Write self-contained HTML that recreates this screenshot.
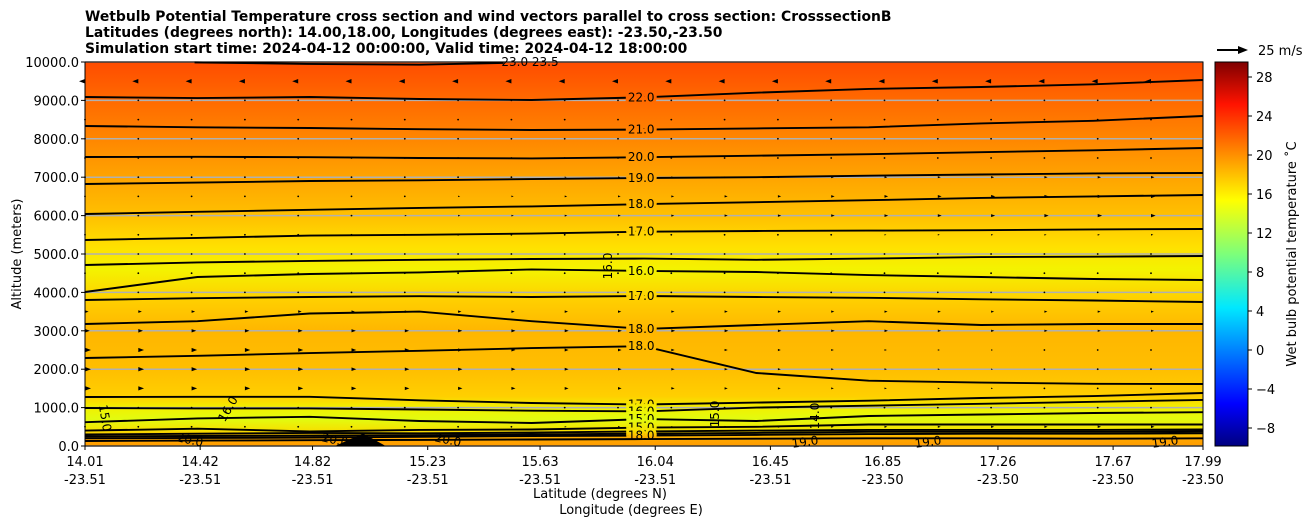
<!DOCTYPE html>
<html><head><meta charset="utf-8">
<style>
body{margin:0;background:#fff;}
svg text{font-family:"DejaVu Sans","Liberation Sans",sans-serif;}
</style></head>
<body>
<svg id="chart" width="1311" height="526" viewBox="0 0 1311 526" xmlns="http://www.w3.org/2000/svg" style="position:absolute;left:0;top:0">
<defs>
<linearGradient id="bg" gradientUnits="userSpaceOnUse" x1="0" y1="446" x2="0" y2="62">
<stop offset="0" stop-color="#ff9c00"/>
<stop offset="0.02" stop-color="#ffa800"/>
<stop offset="0.04" stop-color="#f6e000"/>
<stop offset="0.07" stop-color="#e2fb10"/>
<stop offset="0.10" stop-color="#f2f000"/>
<stop offset="0.13" stop-color="#ffcf00"/>
<stop offset="0.20" stop-color="#ffbe00"/>
<stop offset="0.30" stop-color="#ffb600"/>
<stop offset="0.38" stop-color="#ffcf00"/>
<stop offset="0.46" stop-color="#f4f300"/>
<stop offset="0.52" stop-color="#ffe000"/>
<stop offset="0.60" stop-color="#ffc000"/>
<stop offset="0.70" stop-color="#ffa400"/>
<stop offset="0.80" stop-color="#ff8600"/>
<stop offset="0.90" stop-color="#ff6a00"/>
<stop offset="1" stop-color="#ff4c00"/>
</linearGradient>
<linearGradient id="jet" x1="0" y1="1" x2="0" y2="0">
<stop offset="0" stop-color="#00007f"/>
<stop offset="0.11" stop-color="#0000ff"/>
<stop offset="0.36" stop-color="#00e8ff"/>
<stop offset="0.5" stop-color="#7dff7a"/>
<stop offset="0.64" stop-color="#ffff00"/>
<stop offset="0.89" stop-color="#ff1300"/>
<stop offset="1" stop-color="#7f0000"/>
</linearGradient>
</defs>
</svg>
<script>
const latTicks=[14.01,14.42,14.82,15.23,15.63,16.04,16.45,16.85,17.26,17.67,17.99];
const lonTicks=["-23.51","-23.51","-23.51","-23.51","-23.51","-23.51","-23.51","-23.50","-23.50","-23.50","-23.50"];
const altTicks=[0,1000,2000,3000,4000,5000,6000,7000,8000,9000,10000];
const cbarTicks=[-8,-4,0,4,8,12,16,20,24,28];
const sampleLat=[14.01,14.41,14.81,15.2,15.6,16.0,16.4,16.8,17.2,17.6,17.99];
const contourLevels=["22.0","21.0","20.0","19.0","18.0","17.0","16.0","16.0","17.0","18.0","18.0","17.0","16.0","15.0","15.0","16.0","17.0","18.0","19.0"];
const labelShown=[1,1,1,1,1,1,0,1,1,1,1,1,1,1,1,0,0,1,0];
const c22=[9089,9060,9089,9036,9010,9080,9200,9300,9350,9420,9530];
const c21=[8333,8300,8280,8250,8229,8240,8270,8300,8400,8470,8594];
const c20=[7526,7530,7520,7500,7490,7520,7560,7600,7650,7700,7760];
const c19=[6823,6860,6900,6920,6950,6979,7000,7040,7070,7100,7109];
const c18=[6042,6100,6150,6200,6240,6300,6350,6400,6460,6500,6536];
const c17=[5365,5420,5480,5500,5530,5580,5600,5610,5620,5640,5651];
const c16a=[4713,4780,4820,4850,4870,4880,4850,4880,4920,4930,4948];
const c16b=[4010,4400,4480,4520,4600,4560,4530,4450,4400,4350,4323];
const c17b=[3802,3850,3880,3900,3880,3906,3880,3860,3820,3790,3750];
const c18b=[3177,3250,3450,3500,3250,3050,3150,3250,3150,3177,3177];
const c18c=[2292,2350,2420,2480,2550,2600,1900,1700,1650,1620,1615];
const c17c=[1276,1280,1280,1190,1120,1080,1130,1180,1250,1300,1380];
const c16c=[990,980,980,950,920,900,1000,1050,1100,1150,1200];
const c15a=[620,720,760,650,600,700,650,780,820,860,880];
const c15b=[400,450,380,420,430,480,500,560,560,560,560];
const c16d=[300,320,340,330,350,380,400,420,420,420,430];
const c17d=[250,260,270,280,300,320,340,370,370,370,380];
const c18d=[200,210,220,240,260,270,290,310,320,320,330];
const c19b=[130,140,150,160,170,180,190,200,200,190,200];
const contours=[c22,c21,c20,c19,c18,c17,c16a,c16b,c17b,c18b,c18c,c17c,c16c,c15a,c15b,c16d,c17d,c18d,c19b];
const windAlt=[0,500,1000,1500,2000,2500,3000,3500,4000,4500,5000,5500,6000,6500,7000,7500,8000,8500,9000,9500,10000];
const windLeft=[0,0.3,0.4,2.5,2.5,2.5,2,1.5,0.4,0.3,0.3,0.3,0.4,0.3,0.3,0.3,0.3,0.3,0.3,-2.5,-1];
const windRight=[0,1.5,0.4,0.4,0.4,0.4,1.2,1.2,0.4,0.3,0.3,1,2,2,1.5,0.4,0.4,0.3,0.3,-2.5,-1];

const NS="http://www.w3.org/2000/svg";
const X0=85,X1=1203,Y0=446,Y1=62;
const xs=lat=>X0+(lat-14.01)/(17.99-14.01)*(X1-X0);
const ys=a=>Y0-a/10000*(Y0-Y1);
const cy=v=>77+(28-v)*(428-77)/36;
const svg=document.getElementById('chart');
function mk(tag,attrs,parent){const e=document.createElementNS(NS,tag);for(const k in attrs)e.setAttribute(k,attrs[k]);(parent||svg).appendChild(e);return e;}
function txt(s,attrs,parent){const e=mk('text',attrs,parent);e.textContent=s;return e;}

const bgRect=mk('rect',{x:X0,y:Y1,width:X1-X0,height:Y0-Y1,fill:'url(#bg)'});


altTicks.forEach(a=>{const g=mk('line',{x1:X0,x2:X1,y1:ys(a),y2:ys(a),stroke:'#b0b0b0','stroke-width':1.5});

});
const terr=mk('path',{d:`M${xs(14.9)} ${Y0} L${xs(15.0)} ${ys(330)} L${xs(15.08)} ${Y0} Z`,fill:'#000'});


contours.forEach((arr,i)=>{
  let d='';arr.forEach((a,j)=>{d+=(j?' L':'M')+xs(sampleLat[j]).toFixed(1)+' '+ys(a).toFixed(1);});
  const p=mk('path',{d:d,fill:'none',stroke:'#000','stroke-width':1.9});
  
  
  if(!labelShown[i]) return;
  const a=arr[5];
  const t=txt(contourLevels[i],{x:xs(15.99),y:ys(a)+4,'font-size':12,fill:'#000','text-anchor':'middle',stroke:'url(#bg)','stroke-width':6,'paint-order':'stroke'});
  
  
});
const c23=mk('path',{d:`M${xs(14.4)} ${ys(9990)} L${xs(14.8)} ${ys(9950)} L${xs(15.2)} ${ys(9930)} L${xs(15.5)} ${ys(9975)}`,fill:'none',stroke:'#000','stroke-width':1.9});


const extraLabels=[["23.0 23.5",530,66,0],["20.0",190,444,12],["20.0",335,444,12],["20.0",448,444,12],["19.0",805,446,-8],["19.0",928,446,-8],["19.0",1165,446,-8],["15.0",105,422,80],["16.0",228,413,-60],["16.0",608,270,-90],["15.0",715,418,-90],["14.0",815,420,-90]];
extraLabels.forEach(l=>{const t=txt(l[0],{x:l[1],y:l[2],'font-size':12,fill:'#000','text-anchor':'middle',transform:`rotate(${l[3]} ${l[1]} ${l[2]-4})`});

});
for(let r=0;r<windAlt.length;r++){
  for(let c=0;c<22;c++){
    const f=c/21,u=windLeft[r]*(1-f)+windRight[r]*f;
    const x=X0+c*53.3,y=ys(windAlt[r]);
    if(y<Y1+3||y>Y0-3||x>X1-2) continue;
    let el;
    if(Math.abs(u)<0.8){el=mk('circle',{cx:x,cy:y,r:0.9,fill:'#000'});}
    else{const L=Math.min(Math.abs(u)*2.4,7)*Math.sign(u),h=Math.min(Math.abs(u),3)*0.9;
      el=mk('path',{d:`M${x+L} ${y} L${x} ${y-h} L${x} ${y+h} Z`,fill:'#000'});}
    
    
  }
}
const fr=mk('rect',{x:X0,y:Y1,width:X1-X0,height:Y0-Y1,fill:'none',stroke:'#000','stroke-width':1});


altTicks.forEach(a=>{mk('line',{x1:X0-4,x2:X0,y1:ys(a),y2:ys(a),stroke:'#000'});
const t=txt(a.toFixed(1),{x:X0-6,y:ys(a)+5,'font-size':13,'text-anchor':'end'});

});
latTicks.forEach((v,i)=>{const x=xs(v);mk('line',{x1:x,x2:x,y1:Y0,y2:Y0+4,stroke:'#000'});
const t=txt(v.toFixed(2),{x:x,y:466,'font-size':13,'text-anchor':'middle'});


const t2=txt(lonTicks[i],{x:x,y:484,'font-size':13,'text-anchor':'middle'});

});
const cb=mk('rect',{x:1215,y:62,width:33,height:384,fill:'url(#jet)',stroke:'#000','stroke-width':1});


cbarTicks.forEach(v=>{const y=cy(v);mk('line',{x1:1248,x2:1252,y1:y,y2:y,stroke:'#000'});
const t=txt(v<0?'\u2212'+(-v):String(v),{x:1256,y:y+5,'font-size':13});

});
</script>
<svg style="position:absolute;left:0;top:0" width="1311" height="526">
<g font-family="DejaVu Sans, Liberation Sans, sans-serif">
<text x="85" y="21" font-size="13.9" font-weight="bold">Wetbulb Potential Temperature cross section and wind vectors parallel to cross section: CrosssectionB</text>
<text x="85" y="37" font-size="13.9" font-weight="bold">Latitudes (degrees north): 14.00,18.00, Longitudes (degrees east): -23.50,-23.50</text>
<text x="85" y="53" font-size="13.9" font-weight="bold">Simulation start time: 2024-04-12 00:00:00, Valid time: 2024-04-12 18:00:00</text>
<text x="0" y="0" font-size="13" text-anchor="middle" transform="translate(21 254) rotate(-90)">Altitude (meters)</text>
<text x="600" y="498" font-size="13" text-anchor="middle">Latitude (degrees N)</text>
<text x="631" y="514" font-size="13" text-anchor="middle">Longitude (degrees E)</text>
<text x="0" y="0" font-size="13" text-anchor="middle" transform="translate(1296 254) rotate(-90)">Wet bulb potential temperature ˚C</text>
<g>
<line x1="1217" y1="50" x2="1240" y2="50" stroke="#000" stroke-width="2"/>
<path d="M1248 50 L1238 46 L1238 54 Z" fill="#000"/>
<text x="1258" y="55" font-size="13">25 m/s</text>
</g>
</g>
</svg>
</body></html>
